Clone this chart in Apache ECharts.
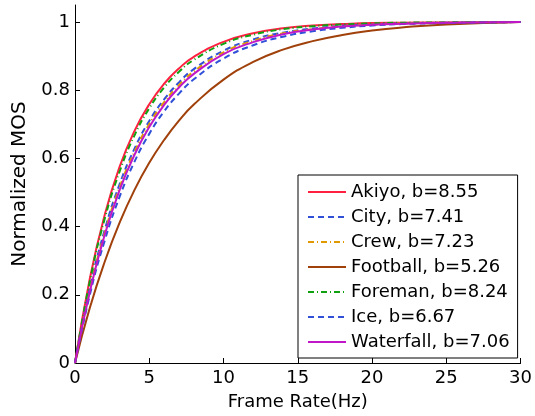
<!DOCTYPE html>
<html>
<head>
<meta charset="utf-8">
<script src="https://cdn.jsdelivr.net/npm/echarts@6/dist/echarts.min.js"></script>
<style>
  html, body { margin: 0; padding: 0; background: #fff; }
  #main { width: 535px; height: 416px; }
</style>
</head>
<body>
<div id="main"></div>
<script>
// frame rates (Hz) at which the curves were read
var frameRates = [0, 1, 2, 3, 4, 5, 6, 7, 8, 10, 12, 14, 16, 18, 20, 22, 25, 30];

var akiyo     = [0, 0.248, 0.434, 0.575, 0.680, 0.759, 0.819, 0.864, 0.898, 0.942, 0.967, 0.982, 0.990, 0.994, 0.997, 0.998, 0.999, 1];
var city      = [0, 0.219, 0.390, 0.524, 0.628, 0.710, 0.773, 0.823, 0.862, 0.916, 0.949, 0.969, 0.981, 0.989, 0.993, 0.996, 0.998, 1];
var crew      = [0, 0.214, 0.382, 0.515, 0.619, 0.701, 0.765, 0.815, 0.855, 0.911, 0.945, 0.967, 0.979, 0.988, 0.992, 0.996, 0.998, 1];
var football  = [0, 0.162, 0.297, 0.411, 0.507, 0.587, 0.654, 0.711, 0.758, 0.831, 0.883, 0.919, 0.944, 0.962, 0.975, 0.984, 0.993, 1];
var foreman   = [0, 0.240, 0.423, 0.561, 0.667, 0.747, 0.808, 0.854, 0.889, 0.936, 0.963, 0.979, 0.988, 0.993, 0.996, 0.998, 0.999, 1];
var ice       = [0, 0.200, 0.359, 0.487, 0.590, 0.672, 0.738, 0.790, 0.832, 0.893, 0.932, 0.957, 0.973, 0.983, 0.990, 0.994, 0.997, 1];
var waterfall = [0, 0.210, 0.376, 0.507, 0.610, 0.692, 0.757, 0.808, 0.848, 0.906, 0.941, 0.964, 0.978, 0.987, 0.992, 0.995, 0.998, 1];

var names = ['Akiyo, b=8.55', 'City, b=7.41', 'Crew, b=7.23', 'Football, b=5.26', 'Foreman, b=8.24', 'Ice, b=6.67', 'Waterfall, b=7.06'];
var yTicks = [0, 0.2, 0.4, 0.6, 0.8, 1];

var FONT = 'DejaVu Sans';

function pairs(ys) {
  return frameRates.map(function (x, i) { return [x, ys[i]]; });
}

function line(name, ys, color, type) {
  return {
    name: name,
    type: 'line',
    data: pairs(ys),
    smooth: true,
    symbol: 'none',
    lineStyle: { color: color, width: 2, type: type },
    itemStyle: { color: color }
  };
}

var myChart = echarts.init(document.getElementById('main'), null, { renderer: 'canvas' });

var option = {
  animation: false,
  backgroundColor: '#fff',
  textStyle: { fontFamily: FONT },
  grid: { left: 75, right: 10, top: 5, bottom: 51 },
  xAxis: {
    type: 'value',
    min: 0,
    max: 30,
    interval: 5,
    name: 'Frame Rate(Hz)',
    nameLocation: 'middle',
    nameGap: 30,
    nameTextStyle: { fontFamily: FONT, fontSize: 18, color: '#000' },
    axisLine: { lineStyle: { color: '#000', width: 1 } },
    axisTick: { inside: true, length: 5, lineStyle: { color: '#000' } },
    axisLabel: { fontFamily: FONT, fontSize: 18, color: '#000', margin: 6 },
    splitLine: { show: false }
  },
  yAxis: {
    type: 'value',
    min: 0,
    max: 1.05,
    name: 'Normalized MOS',
    nameLocation: 'middle',
    nameGap: 45,
    nameTextStyle: { fontFamily: FONT, fontSize: 20, color: '#000' },
    axisLine: { show: true, lineStyle: { color: '#000', width: 1 } },
    axisTick: { inside: true, length: 5, customValues: yTicks, lineStyle: { color: '#000' } },
    axisLabel: { fontFamily: FONT, fontSize: 18, color: '#000', margin: 5, customValues: yTicks },
    splitLine: { show: false }
  },
  legend: {
    orient: 'vertical',
    left: 298,
    top: 175,
    data: names,
    itemWidth: 38,
    itemHeight: 14,
    itemGap: 5,
    padding: [7, 8, 6, 9],
    backgroundColor: '#fff',
    borderColor: '#000',
    borderWidth: 1,
    borderRadius: 0,
    itemStyle: { opacity: 0 },
    textStyle: { fontFamily: FONT, fontSize: 18, color: '#000', lineHeight: 20 }
  },
  series: [
    line(names[0], akiyo, '#ff2040', 'solid'),
    line(names[1], city, '#3050d8', [6, 4]),
    line(names[2], crew, '#e09a00', [6, 3, 1, 3]),
    line(names[3], football, '#a0400a', 'solid'),
    line(names[4], foreman, '#10a010', [6, 3, 1, 3]),
    line(names[5], ice, '#3050d8', [6, 4]),
    line(names[6], waterfall, '#c018c8', 'solid')
  ]
};

myChart.setOption(option);
</script>
</body>
</html>
